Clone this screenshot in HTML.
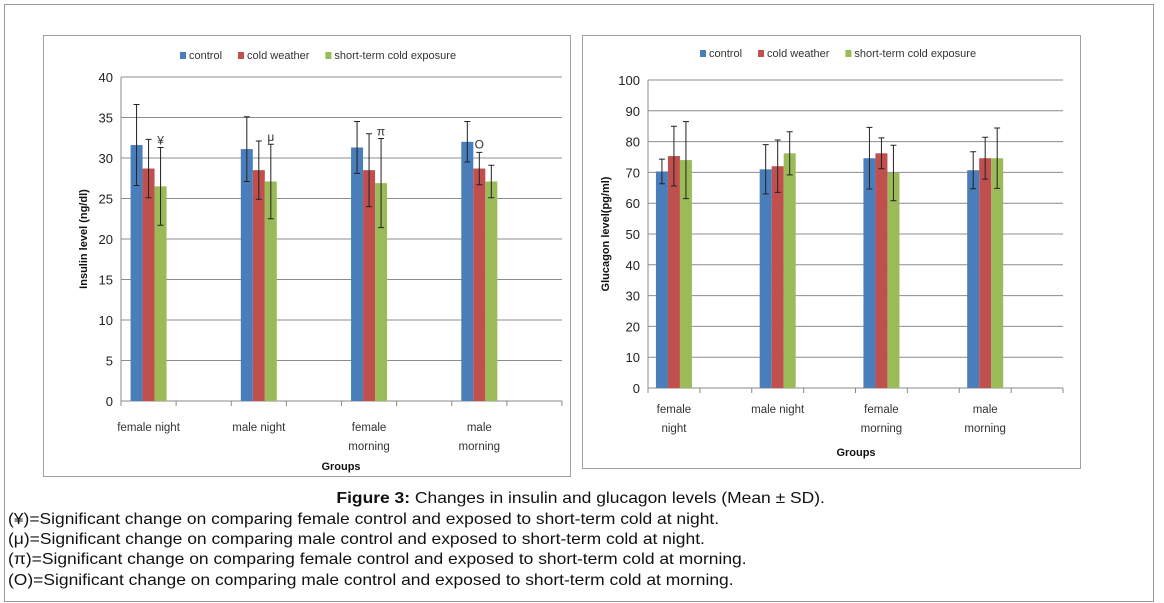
<!DOCTYPE html>
<html><head><meta charset="utf-8">
<style>
body{margin:0;background:#fff;width:1164px;height:603px;overflow:hidden;font-family:"Liberation Sans",sans-serif}
#frame{position:absolute;left:4px;top:4px;width:1148px;height:596px;border:1px solid #9a9a9a}
.cap{position:absolute;font-size:16px;color:#111;white-space:nowrap;transform:scaleX(1.09);transform-origin:0 0}
svg text{font-family:"Liberation Sans",sans-serif}
</style></head><body>
<div id="frame"></div>
<svg id="chart" width="1164" height="603" style="position:absolute;left:0;top:0"></svg>
<div class="cap" style="left:0;width:1164px;text-align:center;top:490px;transform-origin:597px 0"><b>Figure 3:</b> Changes in insulin and glucagon levels (Mean ± SD).</div>
<div class="cap" style="left:8px;top:511px">(¥)=Significant change on comparing female control and exposed to short-term cold at night.</div>
<div class="cap" style="left:8px;top:531px">(μ)=Significant change on comparing male control and exposed to short-term cold at night.</div>
<div class="cap" style="left:8px;top:551px">(π)=Significant change on comparing female control and exposed to short-term cold at morning.</div>
<div class="cap" style="left:8px;top:572px">(O)=Significant change on comparing male control and exposed to short-term cold at morning.</div>
<script>
const categories=[["female night"],["male night"],["female","morning"],["male","morning"]];
const categoriesR=[["female","night"],["male night"],["female","morning"],["male","morning"]];
const seriesNames=["control","cold weather","short-term cold exposure"];
const insulinControl=[31.6,31.1,31.3,32.0];
const insulinControlSD=[5.0,4.0,3.2,2.5];
const insulinCold=[28.7,28.5,28.5,28.7];
const insulinColdSD=[3.6,3.6,4.5,2.0];
const insulinShort=[26.5,27.1,26.9,27.1];
const insulinShortSD=[4.8,4.6,5.5,2.0];
const insulinMarks=["¥","μ","π","O"];
const insulinTicks=[0,5,10,15,20,25,30,35,40];
const glucControl=[70.3,71.0,74.6,70.7];
const glucControlSD=[4.0,8.0,10.0,6.0];
const glucCold=[75.3,72.0,76.2,74.6];
const glucColdSD=[9.7,8.5,5.0,6.8];
const glucShort=[74.0,76.2,69.8,74.6];
const glucShortSD=[12.5,7.0,9.0,9.8];
const glucTicks=[0,10,20,30,40,50,60,70,80,90,100];
const colors=["#4a7ebb","#c0504d","#9bbb59"];
const svg=document.getElementById('chart');
const NS="http://www.w3.org/2000/svg";
function mk(tag,at,parent){const e=document.createElementNS(NS,tag);for(const k in at)e.setAttribute(k,at[k]);(parent||svg).appendChild(e);return e;}
function draw(c){
  const g=mk('g',{});
  
  
  const p=mk('rect',{x:c.px,y:c.py,width:c.pw,height:c.ph,fill:'#fff',stroke:'#a0a0a0'},g);
  
  
  const max=c.ticks[c.ticks.length-1];
  const Y=v=>c.y0-(v/max)*(c.y0-c.yTop);
  const slot=(c.x1-c.x0)/8;
  c.ticks.forEach(t=>{
    const l=mk('line',{x1:c.x0,x2:c.x1,y1:Y(t),y2:Y(t),stroke:t===0?'#888':'#8c8c8c','stroke-width':1},g);
    
    
    const tx=mk('text',{x:c.x0-8,y:Y(t)+5,'text-anchor':'end','font-size':13,fill:'#222'},g);
    tx.textContent=t;
    
    
  });
  mk('line',{x1:c.x0,x2:c.x0,y1:c.yTop,y2:c.y0+5,stroke:'#888'},g);
  for(let i=0;i<=8;i++)mk('line',{x1:c.x0+i*slot,x2:c.x0+i*slot,y1:c.y0,y2:c.y0+5,stroke:'#888'},g);
  c.cats.forEach((lab,i)=>{
    const cx=c.x0+(2*i+0.5)*slot;
    lab.forEach((ln,j)=>{
      const t=mk('text',{x:cx,y:c.y0+c.labOff+j*19,'text-anchor':'middle','font-size':11.5,fill:'#333'},g);
      t.textContent=ln;
      
      
    });
    c.series.forEach((s,k)=>{
      const bx=cx-18+k*12;
      const b=mk('rect',{x:bx,y:Y(s[i]),width:12,height:c.y0-Y(s[i]),fill:colors[k]},g);
      
      
      const m=bx+6,hi=Y(s[i]+c.sds[k][i]),lo=Y(s[i]-c.sds[k][i]);
      const e=mk('path',{d:`M${m},${hi}V${lo}M${m-3},${hi}H${m+3}M${m-3},${lo}H${m+3}`,stroke:'#222','stroke-width':1,fill:'none'},g);
      
      
    });
    if(c.marks){
      const s=c.series[2],hi=Y(s[i]+c.sds[2][i]);
      const t=mk('text',{x:cx+(i==3?0:12),y:(i==3?Y(c.series[0][i]-0.8):hi-3),'text-anchor':'middle','font-size':12,fill:'#333'},g);
      t.textContent=c.marks[i];
      
      
    }
  });
  let lx=c.legX;
  seriesNames.forEach((n,k)=>{
    mk('rect',{x:lx,y:c.legY-6,width:6,height:7,fill:colors[k]},g);
    const t=mk('text',{x:lx+9,y:c.legY+1,'font-size':11,fill:'#333'},g);
    t.textContent=n;
    
    
    lx+=9+t.getComputedTextLength()+16;
  });
  const yt=mk('text',{x:0,y:0,'font-size':11,'font-weight':'bold','text-anchor':'middle',transform:`translate(${c.ytX},${(c.y0+c.yTop)/2}) rotate(-90)`,fill:'#111'},g);
  yt.textContent=c.ytitle;
  
  
  const xt=mk('text',{x:c.xtX,y:c.xtY,'font-size':11,'font-weight':'bold','text-anchor':'middle',fill:'#111'},g);
  xt.textContent='Groups';
  
  
}
draw({id:'insulin-chart',px:43.5,py:35.5,pw:527,ph:441,x0:121,x1:562,y0:401,yTop:77,ticks:insulinTicks,cats:categories,
 series:[insulinControl,insulinCold,insulinShort],sds:[insulinControlSD,insulinColdSD,insulinShortSD],marks:insulinMarks,
 labOff:30,legX:180,legY:58,ytitle:'Insulin level (ng/dl)',ytX:87,xtX:341,xtY:470});
draw({id:'glucagon-chart',px:582.5,py:35.5,pw:498,ph:433,x0:648,x1:1063,y0:388,yTop:80,ticks:glucTicks,cats:categoriesR,
 series:[glucControl,glucCold,glucShort],sds:[glucControlSD,glucColdSD,glucShortSD],marks:null,
 labOff:25,legX:700,legY:56,ytitle:'Glucagon level(pg/ml)',ytX:609,xtX:856,xtY:456});
</script>
</body></html>
